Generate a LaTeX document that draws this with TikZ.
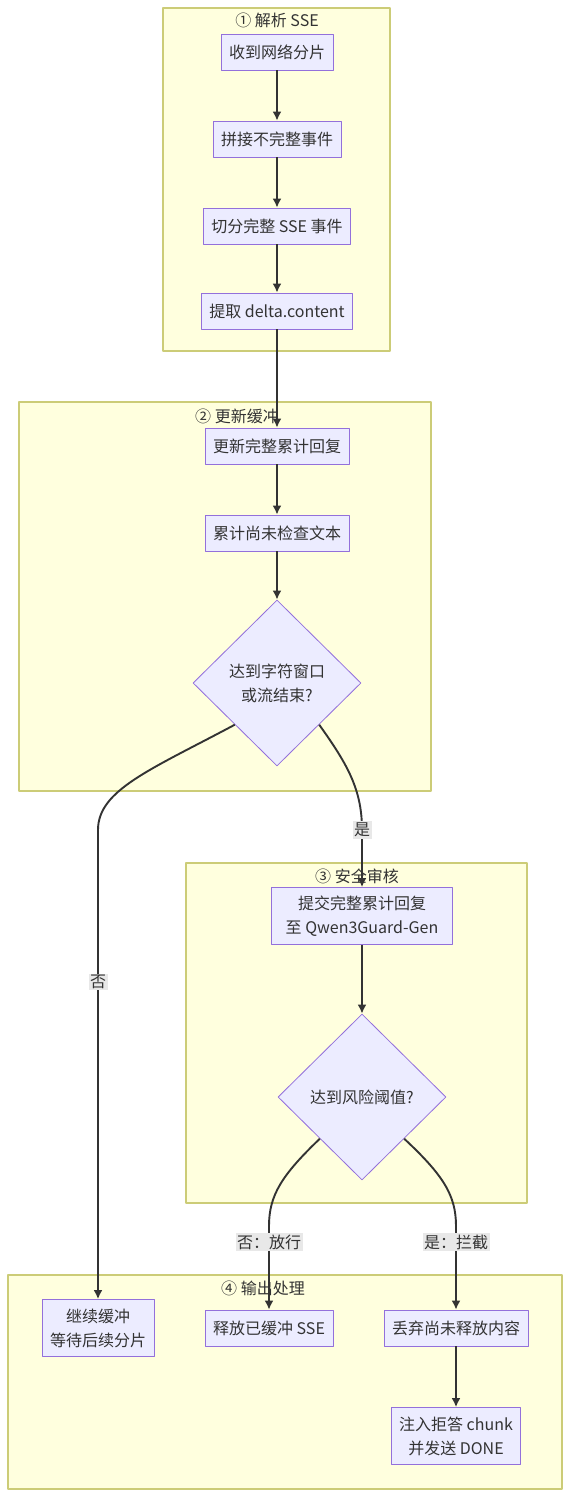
\documentclass[tikz,border=0pt]{standalone}
\usepackage{fontspec}
\newfontfamily\cjk{Noto Sans CJK SC}
\usetikzlibrary{shapes.geometric,arrows.meta}
\definecolor{clfill}{HTML}{FFFFDE}
\definecolor{cledge}{HTML}{CCCC77}
\definecolor{ndfill}{HTML}{ECECFF}
\definecolor{ndedge}{HTML}{9370DB}
\definecolor{ink}{HTML}{333333}
\definecolor{lblfill}{HTML}{E8E8E8}
\begin{document}
\begin{tikzpicture}[x=1pt,y=-1pt,>={Latex[length=9pt,width=9pt]},line join=round,
	font=\cjk\fontsize{16}{24}\selectfont,text=ink,
	cluster/.style={draw=cledge,fill=clfill,line width=1.2pt},
	ctitle/.style={inner sep=0pt},
	box/.style={draw=ndedge,fill=ndfill,line width=0.8pt,inner xsep=8pt,minimum height=36pt,align=center},
	twobox/.style={box,minimum height=57pt},
	choice/.style={draw=ndedge,fill=ndfill,line width=0.8pt,diamond,minimum width=168pt,minimum height=166pt,inner sep=0pt,align=center},
	flow/.style={->,draw=ink,line width=1.9pt},
	lbl/.style={fill=lblfill,inner sep=1.5pt}]
	\useasboundingbox (0,0) rectangle (570,1497);
	% Vẽ các cụm
	\draw[cluster] (163,8) rectangle (390,351);
	\draw[cluster] (19,402) rectangle (431,791);
	\draw[cluster] (186,863) rectangle (527,1203);
	\draw[cluster] (8,1275) rectangle (562,1489);
	\node[ctitle] (t1) at (277,20) {① 解析 SSE};
	\node[ctitle] (t2) at (237,416) {② 更新缓冲};
	\node[ctitle] (t3) at (357,876) {③ 安全审核};
	\node[ctitle] (t4) at (263,1288) {④ 输出处理};
	% Vẽ các nút
	\node[box] (recv) at (277,52) {收到网络分片};
	\node[box] (join) at (277,139) {拼接不完整事件};
	\node[box] (split) at (277,226) {切分完整 SSE 事件};
	\node[box] (delta) at (277,311) {提取 delta.content};
	\node[box] (upd) at (277,446) {更新完整累计回复};
	\node[box] (acc) at (277,533) {累计尚未检查文本};
	\node[choice] (win) at (277,683) {达到字符窗口\\或流结束?};
	\node[twobox,inner xsep=14pt] (send) at (362,916) {提交完整累计回复\\至 Qwen3Guard-Gen};
	\node[choice] (risk) at (362,1097) {达到风险阈值?};
	\node[twobox] (wait) at (98,1328) {继续缓冲\\等待后续分片};
	\node[box] (rel) at (269,1328) {释放已缓冲 SSE};
	\node[box] (drop) at (456,1328) {丢弃尚未释放内容};
	\node[twobox] (inj) at (456,1436) {注入拒答 chunk\\并发送 DONE};
	\coordinate (wno) at (98,830);
	\coordinate (wyes) at (362,830);
	\coordinate (rno) at (269,1226);
	\coordinate (ryes) at (456,1226);
	% Vẽ các mũi tên
	\draw[flow] (recv) -- (join);
	\draw[flow] (join) -- (split);
	\draw[flow] (split) -- (delta);
	\draw[flow] (delta) -- (upd);
	\draw[flow] (upd) -- (acc);
	\draw[flow] (acc) -- (win);
	\draw[flow] (win.south west) .. controls (150,770) and (98,790) .. (wno) -- (wait);
	\draw[flow] (win.south east) .. controls (348,765) and (362,790) .. (wyes) -- (send);
	\draw[flow] (send) -- (risk);
	\draw[flow] (risk.south west) .. controls (282,1175) and (269,1195) .. (rno) -- (rel);
	\draw[flow] (risk.south east) .. controls (443,1175) and (456,1195) .. (ryes) -- (drop);
	\draw[flow] (drop) -- (inj);
	\node[lbl] (lno) at (98,982) {否};
	\node[lbl] (lyes) at (362,830) {是};
	\node[lbl] (lrno) at (269,1242) {否：放行};
	\node[lbl] (lryes) at (456,1242) {是：拦截};
\end{tikzpicture}
\end{document}
